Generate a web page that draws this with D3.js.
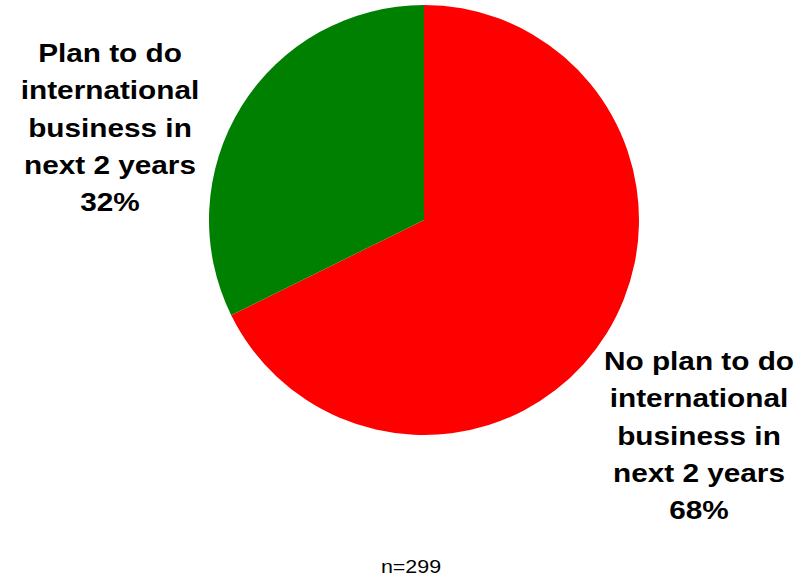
<!DOCTYPE html>
<html><head><meta charset="utf-8">
<script src="https://cdn.jsdelivr.net/npm/d3@7"></script>
<style>body{margin:0;background:#fff;}svg{display:block;font-family:"Liberation Sans",Arial,sans-serif;}</style>
</head><body>
<script>
const categories = ["No plan to do international business in next 2 years", "Plan to do international business in next 2 years"];
const values = [67.7, 32.3];
const percentLabels = ["68%", "32%"];
const labelLines = [
  ["No plan to do", "international", "business in", "next 2 years"],
  ["Plan to do", "international", "business in", "next 2 years"]
];
const colors = ["#ff0000", "#008000"];
const note = "n=299";

const W = 808, H = 576;
const svg = d3.select("body").append("svg").attr("width", W).attr("height", H);
const cx = 424, cy = 220, r = 215;
const stretch = 1.19;

const pie = d3.pie().sort(null).value(d => d)(values);
const arc = d3.arc().innerRadius(0).outerRadius(r);
const g = svg.append("g").attr("transform", `translate(${cx},${cy})`);
g.selectAll("path").data(pie).join("path")
  .attr("d", arc).attr("fill", (d, i) => colors[i]);

const labelPos = [{x: 699, y: 370}, {x: 110, y: 62}];
labelLines.forEach((lines, i) => {
  const t = svg.append("g").attr("transform", `translate(${labelPos[i].x},0) scale(${stretch},1)`)
    .append("text").attr("text-anchor", "middle")
    .attr("font-size", 25).attr("font-weight", "bold").attr("fill", "#000");
  lines.concat([percentLabels[i]]).forEach((ln, j) => {
    t.append("tspan").attr("x", 0).attr("y", labelPos[i].y + j * 37.3).text(ln);
  });
});

svg.append("g").attr("transform", `translate(411,0) scale(${stretch},1)`)
  .append("text").attr("x", 0).attr("y", 573).attr("text-anchor", "middle")
  .attr("font-size", 18).attr("fill", "#000").text(note);
</script>
</body></html>
